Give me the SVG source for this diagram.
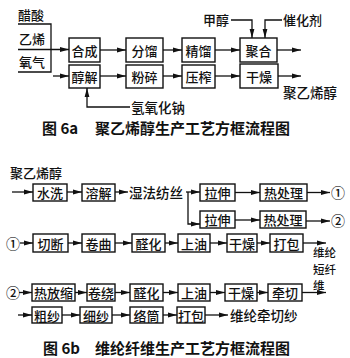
<svg xmlns="http://www.w3.org/2000/svg" width="350" height="358" viewBox="0 0 350 358">
<defs>
<marker id="ah" markerUnits="userSpaceOnUse" markerWidth="10" markerHeight="6" refX="9" refY="3" orient="auto">
<path d="M0,0.6 L9,3 L0,5.4 z" fill="#111"/>
</marker>
<style>
.b rect{fill:#fff;stroke:#111;stroke-width:1.4}
text{font-family:"Noto Sans CJK SC","Liberation Sans",sans-serif;fill:#111;font-size:13px;font-weight:500}
.b text{text-anchor:middle;dominant-baseline:central}
.l{dominant-baseline:central}
.t{font-size:15px;dominant-baseline:central;font-weight:bold}
#conn line,#conn polyline{stroke:#111;stroke-width:1.3;fill:none}
.a{marker-end:url(#ah)}
</style>
</defs>
<rect width="350" height="358" fill="#fff"/>

<!-- 6a -->
<g id="n-hecheng" class="b"><rect x="69" y="38" width="31" height="24"/><text x="84.5" y="50">合成</text></g>
<g id="n-chunjie" class="b"><rect x="69" y="65" width="31" height="23"/><text x="84.5" y="76.5">醇解</text></g>
<g id="n-fenliu" class="b"><rect x="126" y="38" width="37" height="24"/><text x="144.5" y="50">分馏</text></g>
<g id="n-fensui" class="b"><rect x="126" y="65" width="37" height="23"/><text x="144.5" y="76.5">粉碎</text></g>
<g id="n-jingliu" class="b"><rect x="182" y="38" width="33" height="24"/><text x="198.5" y="50">精馏</text></g>
<g id="n-yazha" class="b"><rect x="182" y="65" width="33" height="23"/><text x="198.5" y="76.5">压榨</text></g>
<g id="n-juhe" class="b"><rect x="240" y="38" width="37" height="24"/><text x="258.5" y="50">聚合</text></g>
<g id="n-ganzao" class="b"><rect x="240" y="64" width="38" height="24"/><text x="259" y="76">干燥</text></g>

<text class="l" x="18" y="14">醋酸</text>
<text class="l" x="19" y="38">乙烯</text>
<text class="l" x="19" y="61">氧气</text>
<text class="l" x="203" y="19">甲醇</text>
<text class="l" x="283" y="19">催化剂</text>
<text class="l" x="131" y="107" style="font-size:13.5px">氢氧化钠</text>
<text class="l" x="283" y="92" style="font-size:13.5px">聚乙烯醇</text>
<text class="t" x="42" y="127">图 6a</text>
<text class="t" x="95" y="127">聚乙烯醇生产工艺方框流程图</text>

<!-- 6b -->
<text class="l" x="10" y="172">聚乙烯醇</text>
<g id="n-shuixi" class="b"><rect x="33" y="184" width="34" height="17"/><text x="50" y="192.5">水洗</text></g>
<g id="n-rongjie" class="b"><rect x="82" y="184" width="33" height="17"/><text x="98.5" y="192.5">溶解</text></g>
<text class="l" x="129" y="192" style="font-size:13.5px">湿法纺丝</text>
<g id="n-lashen1" class="b"><rect x="200" y="184" width="35" height="17"/><text x="217.5" y="192.5">拉伸</text></g>
<g id="n-rechuli1" class="b"><rect x="260" y="184" width="47" height="17"/><text x="283.5" y="192.5">热处理</text></g>
<text class="l" x="331" y="192" style="font-size:14px">①</text>
<g id="n-lashen2" class="b"><rect x="200" y="211" width="35" height="17"/><text x="217.5" y="219.5">拉伸</text></g>
<g id="n-rechuli2" class="b"><rect x="260" y="211" width="46" height="17"/><text x="283" y="219.5">热处理</text></g>
<text class="l" x="331" y="220" style="font-size:14px">②</text>

<text class="l" x="6" y="243" style="font-size:14px">①</text>
<g id="n-qieduan" class="b"><rect x="33" y="234" width="35" height="18"/><text x="50.5" y="243">切断</text></g>
<g id="n-juanqu" class="b"><rect x="82" y="234" width="33" height="18"/><text x="98.5" y="243">卷曲</text></g>
<g id="n-quanhua1" class="b"><rect x="132" y="234" width="33" height="18"/><text x="148.5" y="243">醛化</text></g>
<g id="n-shangyou1" class="b"><rect x="178" y="234" width="32" height="18"/><text x="194" y="243">上油</text></g>
<g id="n-ganzao1" class="b"><rect x="227" y="234" width="30" height="18"/><text x="242" y="243">干燥</text></g>
<g id="n-dabao1" class="b"><rect x="270" y="234" width="33" height="18"/><text x="286.5" y="243">打包</text></g>
<text class="l" x="313" y="252" style="font-size:11.5px">维纶</text>
<text class="l" x="313" y="268.5" style="font-size:11.5px">短纤</text>
<text class="l" x="313" y="285" style="font-size:11.5px">维</text>

<text class="l" x="6" y="292" style="font-size:14px">②</text>
<g id="n-refangsuo" class="b"><rect x="32" y="284" width="43" height="17"/><text x="53.5" y="292.5">热放缩</text></g>
<g id="n-juanrao" class="b"><rect x="87" y="284" width="28" height="17"/><text x="101" y="292.5">卷绕</text></g>
<g id="n-quanhua2" class="b"><rect x="130" y="284" width="33" height="17"/><text x="146.5" y="292.5">醛化</text></g>
<g id="n-shangyou2" class="b"><rect x="178" y="284" width="32" height="17"/><text x="194" y="292.5">上油</text></g>
<g id="n-ganzao2" class="b"><rect x="225" y="284" width="32" height="17"/><text x="241" y="292.5">干燥</text></g>
<g id="n-qianqie" class="b"><rect x="268" y="284" width="34" height="17"/><text x="285" y="292.5">牵切</text></g>

<g id="n-cusha" class="b"><rect x="32" y="307" width="30" height="16"/><text x="47" y="315">粗纱</text></g>
<g id="n-xisha" class="b"><rect x="80" y="307" width="32" height="16"/><text x="96" y="315">细纱</text></g>
<g id="n-luotong" class="b"><rect x="130" y="307" width="33" height="16"/><text x="146.5" y="315">络筒</text></g>
<g id="n-dabao2" class="b"><rect x="177" y="307" width="28" height="16"/><text x="191" y="315">打包</text></g>
<text class="l" x="230" y="315" style="font-size:13.5px">维纶牵切纱</text>

<text class="t" x="43" y="347">图 6b</text>
<text class="t" x="95" y="347">维纶纤维生产工艺方框流程图</text>

<g id="conn">
<polyline points="18,24 51,24 51,72 18,72"/>
<line class="a" x1="18" y1="49.5" x2="69" y2="49.5"/>
<line class="a" x1="53" y1="76" x2="69" y2="76"/>
<line class="a" x1="100" y1="50" x2="126" y2="50"/>
<line class="a" x1="100" y1="76" x2="126" y2="76"/>
<line class="a" x1="163" y1="50" x2="182" y2="50"/>
<line class="a" x1="163" y1="76" x2="182" y2="76"/>
<line class="a" x1="215" y1="50" x2="240" y2="50"/>
<line class="a" x1="215" y1="76" x2="240" y2="76"/>
<line class="a" x1="277" y1="50" x2="301" y2="50"/>
<line class="a" x1="278" y1="76" x2="301" y2="76"/>
<polyline class="a" points="231,20 252,20 252,38"/>
<polyline class="a" points="282,20 265,20 265,38"/>
<polyline class="a" points="130,107 87,107 87,88"/>

<line class="a" x1="12" y1="192" x2="33" y2="192"/>
<line class="a" x1="67" y1="192" x2="82" y2="192"/>
<line class="a" x1="115" y1="192" x2="128" y2="192"/>
<line class="a" x1="186" y1="192" x2="200" y2="192"/>
<polyline class="a" points="188,192 188,224 200,224"/>
<line class="a" x1="235" y1="192.5" x2="260" y2="192.5"/>
<line class="a" x1="307" y1="192.5" x2="330" y2="192.5"/>
<line class="a" x1="235" y1="220" x2="260" y2="220"/>
<line class="a" x1="306" y1="221" x2="330" y2="221"/>

<line class="a" x1="20" y1="243" x2="33" y2="243"/>
<line class="a" x1="68" y1="243" x2="82" y2="243"/>
<line class="a" x1="115" y1="243" x2="132" y2="243"/>
<line class="a" x1="165" y1="243" x2="178" y2="243"/>
<line class="a" x1="210" y1="243" x2="227" y2="243"/>
<line class="a" x1="257" y1="243" x2="270" y2="243"/>
<line class="a" x1="303" y1="243" x2="326" y2="243"/>

<line class="a" x1="19" y1="292.5" x2="32" y2="292.5"/>
<line class="a" x1="75" y1="292.5" x2="87" y2="292.5"/>
<line class="a" x1="115" y1="292.5" x2="130" y2="292.5"/>
<line class="a" x1="163" y1="292.5" x2="178" y2="292.5"/>
<line class="a" x1="210" y1="292.5" x2="225" y2="292.5"/>
<line class="a" x1="257" y1="292.5" x2="268" y2="292.5"/>
<line class="a" x1="302" y1="292.5" x2="326" y2="292.5"/>

<line class="a" x1="18" y1="315" x2="32" y2="315"/>
<line class="a" x1="62" y1="315" x2="80" y2="315"/>
<line class="a" x1="112" y1="315" x2="130" y2="315"/>
<line class="a" x1="163" y1="315" x2="177" y2="315"/>
<line class="a" x1="205" y1="315" x2="228" y2="315"/>
</g>
</svg>
